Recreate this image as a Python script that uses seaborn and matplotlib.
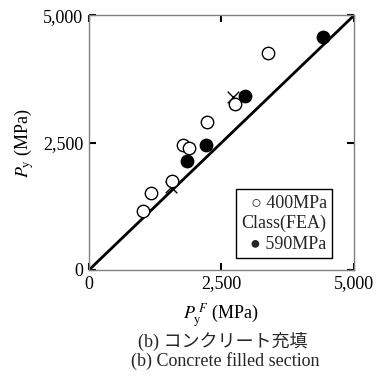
import matplotlib
matplotlib.use("Agg")
import matplotlib.pyplot as plt
import seaborn as sns
import pandas as pd

# Data
x_400 = [1020, 1178, 1568, 1776, 1889, 2223, 2758, 3369]
y_400 = [1160, 1520, 1750, 2457, 2392, 2910, 3257, 4260]
x_590 = [1851, 2217, 2935, 4421]
y_590 = [2136, 2464, 3408, 4568]
x_fea = [1556, 2720]
y_fea = [1638, 3395]
line_x = [0, 5000]
line_y = [0, 5000]
ticks = [0, 2500, 5000]
tick_labels = ["0", "2,500", "5,000"]

sns.set_theme(style="white")
plt.rcParams['font.family'] = ['Liberation Serif', 'DejaVu Serif']
plt.rcParams['mathtext.fontset'] = 'stix'

fig = plt.figure(figsize=(3.77, 3.76), dpi=100)
ax = fig.add_axes([0.236, 0.282, 0.703, 0.677])

df400 = pd.DataFrame({"x": x_400, "y": y_400})
df590 = pd.DataFrame({"x": x_590, "y": y_590})
dffea = pd.DataFrame({"x": x_fea, "y": y_fea})
dfl = pd.DataFrame({"x": line_x, "y": line_y})

sns.lineplot(data=dfl, x="x", y="y", ax=ax, color="black", linewidth=2.0)
sns.scatterplot(data=dffea, x="x", y="y", ax=ax, marker="x", s=70,
                color="black", linewidth=1.0, zorder=3)
sns.scatterplot(data=df400, x="x", y="y", ax=ax, marker="o", s=80,
                facecolor="white", edgecolor="black", linewidth=1.0, zorder=4)
sns.scatterplot(data=df590, x="x", y="y", ax=ax, marker="o", s=80,
                color="black", edgecolor="black", linewidth=1.0, zorder=4)

ax.set_xlim(0, 5000)
ax.set_ylim(0, 5000)
ax.set_xticks(ticks)
ax.set_xticklabels(tick_labels)
ax.set_yticks(ticks)
ax.set_yticklabels(tick_labels)
ax.tick_params(direction="in", length=5, width=1.5, color="black",
               top=True, right=True, bottom=True, left=True,
               labelsize=13, labelcolor="black", pad=4)
for s in ax.spines.values():
    s.set_color("#808080")
    s.set_linewidth(1.0)

ax.set_xlabel(r"$P_{\mathrm{y}}^{\ F}$ (MPa)", fontsize=13, color="black", labelpad=6)
ax.set_ylabel(r"$P_{\mathrm{y}}$ (MPa)", fontsize=13, color="black", labelpad=5)

ax.text(0.897, 0.068, "○ 400MPa\nClass(FEA)\n● 590MPa", transform=ax.transAxes,
        ha="right", va="bottom", fontsize=13, linespacing=1.25,
        bbox=dict(boxstyle="square,pad=0.3", facecolor="white",
                  edgecolor="black", linewidth=1.0), zorder=5)

fig.text(0.59, 0.093, "(b) コンクリート充填", ha="center", va="center",
         fontsize=13, family=['Liberation Serif', 'Noto Sans CJK JP'])
fig.text(0.597, 0.040, "(b) Concrete filled section", ha="center", va="center",
         fontsize=13)

fig.savefig("out.png", dpi=100)
